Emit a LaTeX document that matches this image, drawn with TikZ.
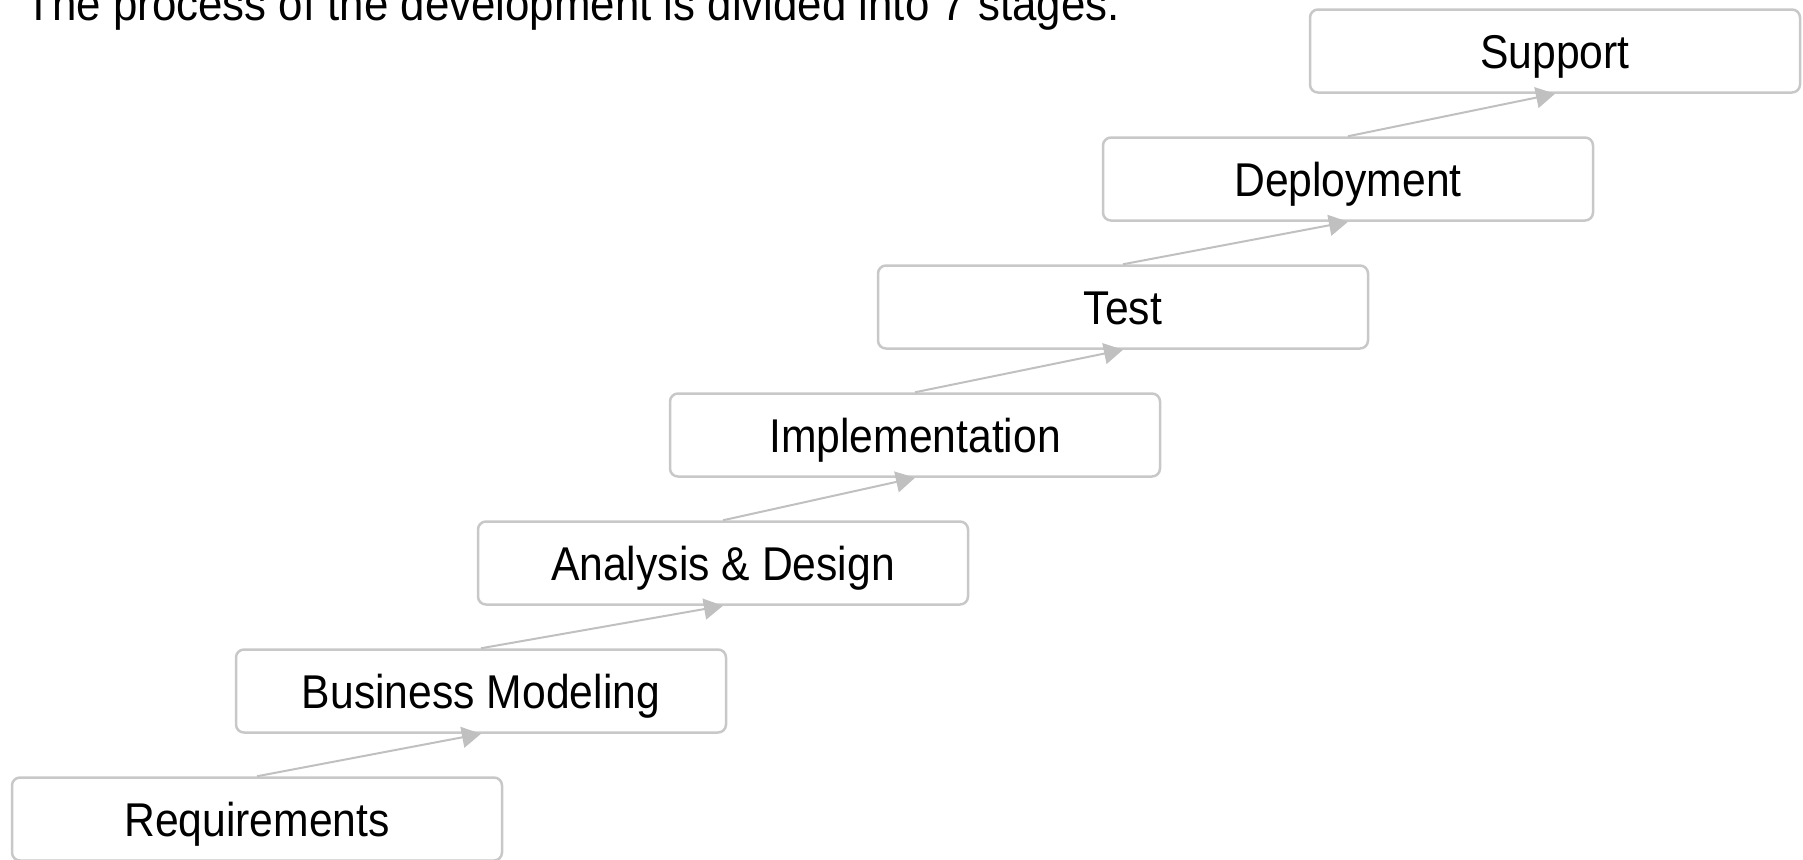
\documentclass[tikz,border=0pt]{standalone}
\usepackage{fontspec}
\setmainfont{Liberation Sans}[FakeStretch=0.9]
\usetikzlibrary{arrows.meta}
\definecolor{stagegray}{RGB}{200,200,200}
\definecolor{arrowgray}{RGB}{192,192,192}

\begin{document}
\begin{tikzpicture}[x=0.5pt,y=-0.5pt,
  stage/.style={draw=stagegray, line width=1.25pt, rounded corners=4pt,
    minimum width=245pt, minimum height=41.5pt, inner sep=0pt,
    text height=17pt, text depth=0pt, font=\fontsize{23.7}{28}\selectfont},
  flow/.style={draw=arrowgray, line width=1pt, -{Triangle[length=9.5pt,width=10.5pt]}}]
\useasboundingbox (0,0) rectangle (1803,859);
\node[anchor=base west, inner sep=0pt, font=\fontsize{23.7}{28}\selectfont\addfontfeature{FakeStretch=0.925}] (title) at (25,20)
  {The process of the development is divided into 7 stages.};
% the seven stages
\node[stage] (req) at (257,819) {Requirements};
\node[stage] (bm) at (481,691) {Business Modeling};
\node[stage] (ad) at (723,563) {Analysis \& Design};
\node[stage] (impl) at (915,435) {Implementation};
\node[stage] (test) at (1123,307) {Test};
\node[stage] (dep) at (1348,179) {Deployment};
\node[stage] (sup) at (1555,51) {Support};
% arrows between them
\draw[flow] (req.north) -- (bm.south);
\draw[flow] (bm.north) -- (ad.south);
\draw[flow] (ad.north) -- (impl.south);
\draw[flow] (impl.north) -- (test.south);
\draw[flow] (test.north) -- (dep.south);
\draw[flow] (dep.north) -- (sup.south);
\end{tikzpicture}
\end{document}
